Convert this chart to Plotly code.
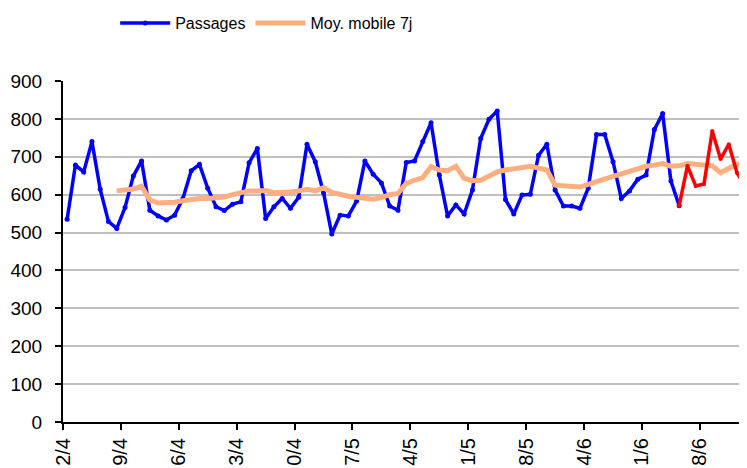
import pandas as pd
import plotly.graph_objects as go

start = pd.Timestamp("2007-04-02")

passages = [535, 678, 660, 740, 614, 529, 511, 566, 649, 689, 559, 544, 533, 546,
            590, 663, 680, 617, 568, 558, 575, 581, 684, 722, 537, 568, 590, 564,
            593, 733, 687, 605, 496, 546, 544, 583, 689, 654, 631, 570, 559, 685,
            689, 740, 790, 652, 544, 573, 549, 612, 748, 799, 821, 587, 549, 599,
            601, 704, 733, 612, 570, 570, 564, 617, 759, 759, 687, 590, 610, 641,
            652, 772, 814, 636, 571]

recent = [571, 676, 623, 628, 768, 694, 733, 657, 623]

moy_mobile = [610, 612, 615, 622, 586, 578, 578, 580, 584, 588, 590, 590, 591, 594,
              600, 605, 610, 610, 611, 605, 605, 607, 610, 614, 610, 618, 606, 600,
              596, 593, 590, 588, 592, 600, 603, 630, 638, 645, 674, 665, 663, 675,
              643, 637, 638, 648, 660, 665, 668, 674, 675, 670, 665, 625, 624, 622,
              620, 627, 633, 640, 648, 655, 662, 668, 675, 678, 682, 675, 676, 682,
              680, 678, 676, 658, 670, 681, 677]

tick_dates = pd.date_range(start, periods=12, freq="7D")
tick_labels = ["2/4", "9/4", "6/4", "3/4", "0/4", "7/5", "4/5", "1/5", "8/5",
               "4/6", "1/6", "8/6"]

# points sit in the middle of each day slot
days = pd.date_range(start + pd.Timedelta(hours=12), periods=83, freq="D")
x_pass = days[:len(passages)]
x_recent = days[len(passages) - 1:len(passages) - 1 + len(recent)]
x_moy = days[83 - len(moy_mobile):]

fig = go.Figure()

fig.add_trace(go.Scatter(
    x=x_pass, y=passages, name="Passages", mode="lines+markers",
    line=dict(color="#0000FF", width=3.5),
    marker=dict(color="#0000FF", size=5),
))

fig.add_trace(go.Scatter(
    x=x_moy, y=moy_mobile, name="Moy. mobile 7j", mode="lines",
    line=dict(color="#FFAF7F", width=5),
))

fig.add_trace(go.Scatter(
    x=x_recent, y=recent, name="Récent", mode="lines+markers",
    line=dict(color="#FF0000", width=3.5),
    marker=dict(color="#FF0000", size=4),
    showlegend=False,
))

# the page body has an 8px margin, so the figure is 8px smaller than the window
fig.update_layout(
    width=739, height=460,
    margin=dict(l=55, r=0, t=73, b=46),
    paper_bgcolor="white", plot_bgcolor="white",
    font=dict(family="Liberation Sans, Arial, sans-serif", size=19, color="black"),
    legend=dict(
        orientation="h", xref="container", yref="container",
        x=0.35, y=0.967, xanchor="center", yanchor="middle",
        font=dict(size=16), itemwidth=50, traceorder="normal",
    ),
    xaxis=dict(
        range=[start, start + pd.Timedelta(hours=82.7 * 24)],
        tickvals=tick_dates, ticktext=tick_labels, tickangle=-90,
        showgrid=False, showline=True, linecolor="black", linewidth=2,
        ticks="outside", ticklen=6, tickwidth=2, tickcolor="black",
        tickfont=dict(size=20), zeroline=False, automargin=False,
    ),
    yaxis=dict(
        range=[0, 900], dtick=100, tick0=0,
        showgrid=True, gridcolor="#C0C0C0", gridwidth=2,
        showline=True, linecolor="black", linewidth=2,
        ticks="outside", ticklen=6, tickwidth=2, tickcolor="black",
        ticklabelstandoff=9, zeroline=False, automargin=False,
    ),
)

fig.write_html("out.html")
